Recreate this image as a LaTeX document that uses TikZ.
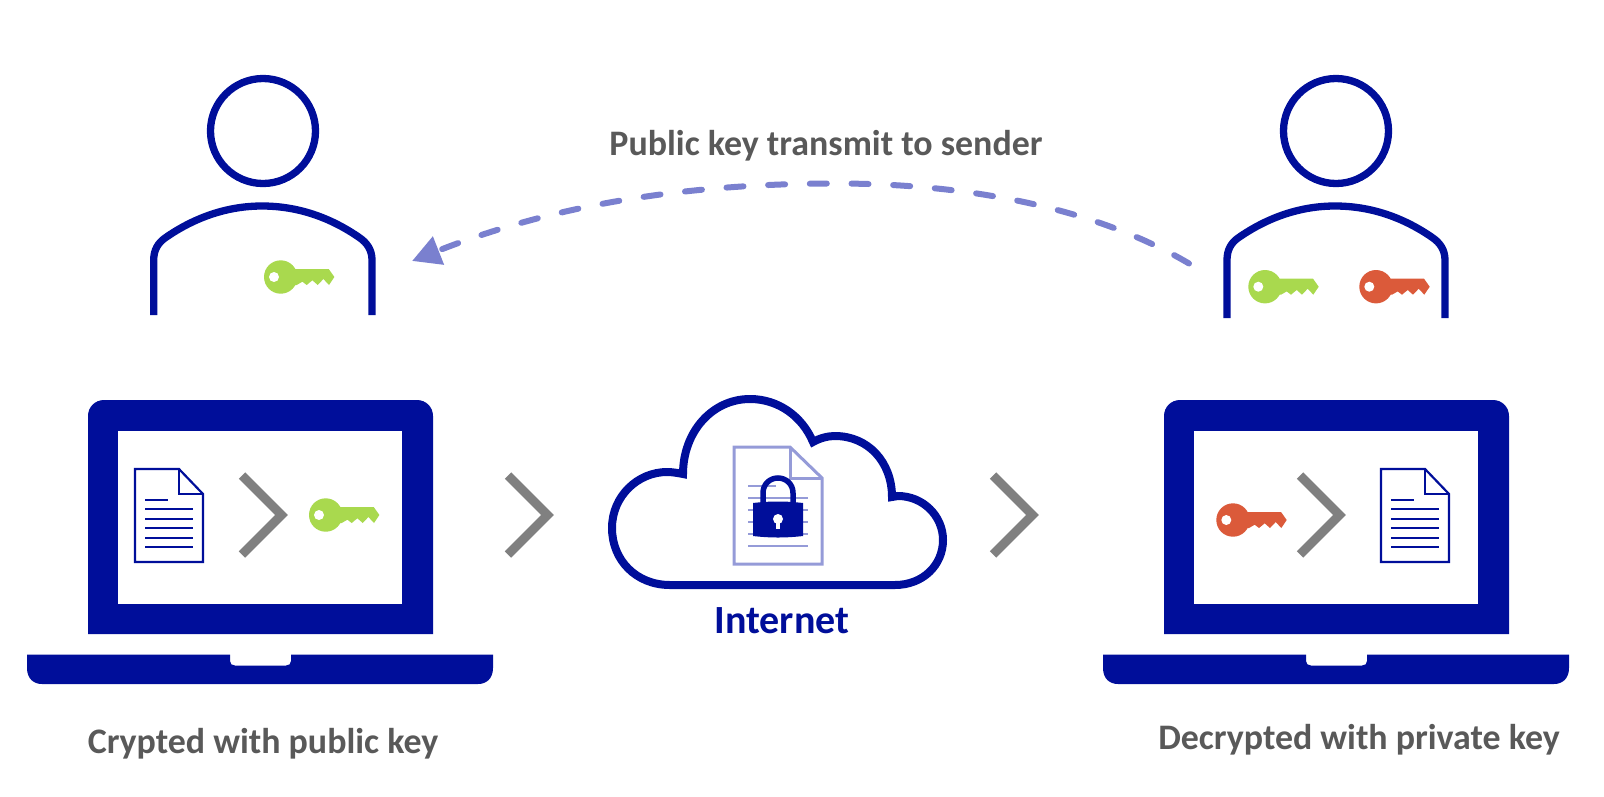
\documentclass[tikz,border=0pt]{standalone}
\usepackage{fontspec}
\setmainfont{Carlito}
\usetikzlibrary{arrows.meta}
\definecolor{navy}{HTML}{000E9A}
\definecolor{keygreen}{HTML}{A9D94E}
\definecolor{keyred}{HTML}{DB5A3A}
\definecolor{chev}{HTML}{808080}
\definecolor{txt}{HTML}{595959}
\definecolor{pale}{HTML}{959BD8}
\definecolor{arrowblue}{HTML}{7A80CF}
\tikzset{
  x=1pt,y=-1pt,
  label text/.style={font=\bfseries\fontsize{35.9}{38}\selectfont,text=txt,inner sep=0pt},
  keyicon/.pic={
    \fill[pic actions] (0,0) circle (16.7);
    \fill[pic actions] (10,-8) -- (48,-8) -- (53.7,0) -- (48.3,8) -- (42.7,2) -- (37,8) -- (31.7,3.3) -- (26,8) -- (21.7,4.7) -- (16,8) -- (10,8) -- cycle;
    \fill[white] (-6.7,0) circle (5);
  },
  docsheet/.pic={
    % origin: top-left corner of the page
    \draw[pic actions,line join=miter] (0,0) -- (44,0) -- (68,25) -- (68,93) -- (0,93) -- cycle;
    \draw[pic actions] (44,0) -- (44,25) -- (68,25);
    \foreach \yy in {40,50,59,69,78}{\draw[pic actions] (10,\yy) -- ++(48,0);}
    \draw[pic actions] (10,31) -- (33,31);
  },
  chevron/.pic={
    \draw[chev,line width=9pt,miter limit=10] (0,-39.5) -- (39.5,0) -- (0,39.5);
  },
  person/.pic={
    \draw[navy,line width=7.3pt] (0,0) circle (52.5);
  },
  laptop/.pic={
    % origin: top-left of the screen frame
    \fill[navy] (0,234) -- (0,16) .. controls (0,7) and (7,0) .. (16,0) -- (329,0) .. controls (338,0) and (345,7) .. (345,16) -- (345,234) -- cycle;
    \fill[white] (30,31) rectangle (314,204);
    \fill[navy] (-61,254.5) -- (142,254.5) -- (142,261) .. controls (142,264) and (144,265.5) .. (147,265.5) -- (198,265.5) .. controls (201,265.5) and (203,264) .. (203,261) -- (203,254.5) -- (405,254.5) -- (405,268) .. controls (405,279) and (398,284) .. (390,284) -- (-46,284) .. controls (-54,284) and (-61,279) .. (-61,268) -- cycle;
  },
}
\begin{document}
\begin{tikzpicture}
\useasboundingbox (0,0) rectangle (1604,796);
% people
\pic at (263,131) {person};
\pic at (1336,131) {person};
\draw[navy,line width=7.3pt] (153.7,315) -- (153.7,260) .. controls (153.7,250) and (158,243) .. (165,238) .. controls (195,217) and (228,206) .. (262,206) .. controls (297,206) and (330,217) .. (360,238) .. controls (367,243) and (372,250) .. (372,260) -- (372,315);
\draw[navy,line width=7.3pt] (1227,318) -- (1227,260) .. controls (1227,250) and (1231,243) .. (1238,238) .. controls (1268,217) and (1301,206) .. (1335,206) .. controls (1370,206) and (1403,217) .. (1433,238) .. controls (1440,243) and (1445,250) .. (1445,260) -- (1445,318);
\pic[fill=keygreen] at (280.7,277) {keyicon};
\pic[fill=keygreen] at (1265,286.7) {keyicon};
\pic[fill=keyred] at (1376,286.7) {keyicon};
% laptops
\pic at (88,400) {laptop};
\pic at (1164,400) {laptop};
\pic[draw=navy,line width=2.2pt] at (135,469) {docsheet};
\pic[draw=navy,line width=2.2pt] at (1381,469) {docsheet};
\pic at (242,515) {chevron};
\pic at (1300,515) {chevron};
\pic[fill=keygreen] at (325.7,515) {keyicon};
\pic[fill=keyred] at (1233,520) {keyicon};
% transit chevrons
\pic at (508,515) {chevron};
\pic at (993,515) {chevron};
% cloud
\draw[navy,line width=8pt,line join=miter] (670,585)
  .. controls (636,585) and (612,560) .. (612,528)
  .. controls (612,496) and (638,472) .. (667,472)
  .. controls (672,472) and (678,473) .. (683,474)
  .. controls (683,432) and (712,399) .. (750,399)
  .. controls (778,399) and (802,416) .. (813,442)
  .. controls (820,438) and (828,436) .. (835,436)
  .. controls (868,436) and (892,462) .. (892,497)
  .. controls (894,497) and (896,496) .. (898,496)
  .. controls (923,496) and (943,516) .. (943,540)
  .. controls (943,565) and (923,585) .. (895,585)
  -- cycle;
% encrypted page
\draw[pale,line width=3pt] (734,447) -- (790,447) -- (822,478) -- (822,564) -- (734,564) -- cycle;
\draw[pale,line width=3pt] (790,447) -- (790,478) -- (822,478);
\foreach \yy in {498,510,522,534,546}{\draw[pale,line width=2.6pt] (748,\yy) -- (808,\yy);}
\draw[pale,line width=2.6pt] (748,486) -- (776,486);
% lock
\draw[navy,line width=5.5pt] (763,505) -- (763,493) .. controls (763,484) and (770,478) .. (778,478) .. controls (786,478) and (793,484) .. (793,493) -- (793,505);
\fill[navy] (753,503) .. controls (770,501) and (786,501) .. (803,503) -- (803,536) .. controls (786,538) and (770,538) .. (753,536) -- cycle;
\fill[white] (778,519) circle (5);
\fill[white] (776.2,520) rectangle (779.8,529);
% labels
\node[label text] (pub) at (826,146) {Public key transmit to sender};
\node[label text] (cry) at (263,744) {Crypted with public key};
\node[label text] (dec) at (1359,740) {Decrypted with private key};
\node[label text,text=navy,font=\bfseries\fontsize{40}{42}\selectfont] (net) at (782,621) {Internet};
% dashed transmit arrow
\coordinate (from) at (1189,263.5);
\coordinate (peak) at (836,183.5);
\coordinate (to) at (412,261);
\draw[arrowblue,line width=6pt,line cap=round,dash pattern=on 17pt off 24.7pt,-{Triangle[length=28.5pt,width=29pt]}] (from) .. controls (1090,205) and (960,183.5) .. (peak) .. controls (680,183.5) and (550,206.5) .. (to);
\end{tikzpicture}
\end{document}
